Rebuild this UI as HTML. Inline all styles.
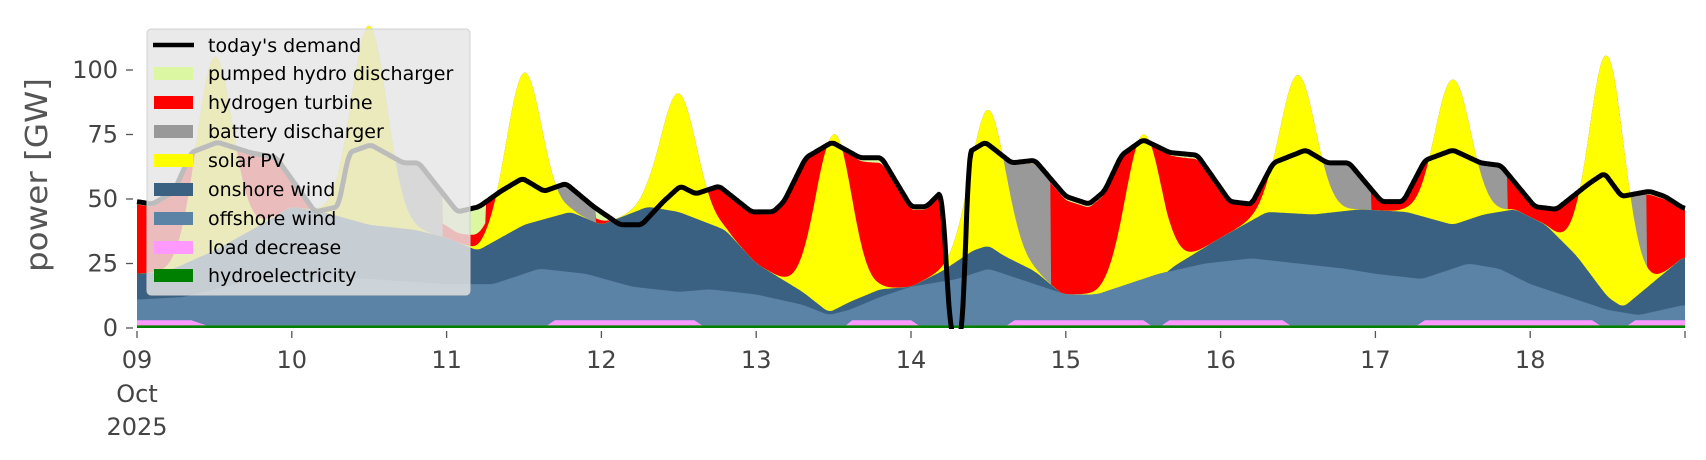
<!DOCTYPE html>
<html><head><meta charset="utf-8"><style>
html,body{margin:0;padding:0;background:#fff;}
svg{display:block;font-family:"DejaVu Sans","Liberation Sans",sans-serif;}
</style></head><body>
<svg id="s" width="1706" height="460" viewBox="0 0 1706 460" xmlns="http://www.w3.org/2000/svg">
<g id="plot"></g>
<g id="axes" fill="#444" font-size="24"></g>
<text x="0" y="0" transform="translate(47,175) rotate(-90)" text-anchor="middle" font-size="30" fill="#555" textLength="194" lengthAdjust="spacingAndGlyphs">power [GW]</text>
<g id="leg">
<rect x="147" y="29" width="323" height="266" rx="4" fill="rgba(229,229,229,0.82)" stroke="#d0d0d0"/>
<g font-size="19" fill="#000">
<line x1="153" y1="45" x2="194" y2="45" stroke="#000" stroke-width="4.5"/>
<text x="208" y="52">today's demand</text>
<rect x="154" y="67" width="39" height="13" fill="#dcf7a1"/><text x="208" y="80">pumped hydro discharger</text>
<rect x="154" y="96" width="39" height="13" fill="#ff0000"/><text x="208" y="109">hydrogen turbine</text>
<rect x="154" y="125" width="39" height="13" fill="#999999"/><text x="208" y="138">battery discharger</text>
<rect x="154" y="154" width="39" height="13" fill="#ffff00"/><text x="208" y="167">solar PV</text>
<rect x="154" y="183" width="39" height="13" fill="#3b6182"/><text x="208" y="196">onshore wind</text>
<rect x="154" y="212" width="39" height="13" fill="#5b83a5"/><text x="208" y="225">offshore wind</text>
<rect x="154" y="241" width="39" height="13" fill="#ff99ff"/><text x="208" y="254">load decrease</text>
<rect x="154" y="269" width="39" height="13" fill="#008000"/><text x="208" y="282">hydroelectricity</text>
</g></g>
</svg>
<script>
const X0=137,DX=154.8;const X=t=>X0+t*DX;const Y=v=>328-v*2.58;
function ip(p,t){if(t<=p[0][0])return p[0][1];for(let i=1;i<p.length;i++){if(t<=p[i][0]){const a=p[i-1],b=p[i];return a[1]+(b[1]-a[1])*(t-a[0])/(b[0]-a[0]);}}return p[p.length-1][1];}
function sm(arr,k){const o=[];for(let i=0;i<arr.length;i++){let s=0,n=0;for(let j=-k;j<=k;j++){const q=i+j;if(q>=0&&q<arr.length){s+=arr[q];n++;}}o.push(s/n);}return o;}
const D=[[0,49],[0.1,48],[0.24,53],[0.35,68],[0.52,72],[0.73,68],[0.9,66],[1.15,45],[1.3,47],[1.37,68],[1.51,71],[1.72,64],[1.82,64],[2.07,45],[2.21,47],[2.35,53],[2.49,58],[2.63,53],[2.77,56],[2.95,47],[3.12,40],[3.26,40],[3.4,49],[3.51,55],[3.61,52],[3.76,55],[3.97,45],[4.11,45],[4.18,49],[4.32,66],[4.49,72],[4.67,66],[4.81,66],[5.0,47],[5.1,47],[5.2,53],[5.255,-3],[5.335,-3],[5.37,68],[5.48,72],[5.65,64],[5.8,65],[6.0,51],[6.15,48],[6.25,53],[6.36,67],[6.5,73],[6.67,68],[6.85,67],[7.06,49],[7.2,48],[7.34,64],[7.55,69],[7.69,64],[7.83,64],[8.04,49],[8.18,49],[8.32,65],[8.5,69],[8.68,64],[8.81,63],[9.03,47],[9.17,46],[9.38,56],[9.48,60],[9.59,51],[9.77,53],[9.87,51],[10,46]];
const O=[[0,10],[0.3,11],[0.7,17],[1.0,19],[1.5,18],[2.0,16],[2.3,16],[2.6,22],[2.9,20],[3.2,15],[3.5,13],[3.7,14],[4.0,12],[4.3,8],[4.47,4],[4.6,6],[4.8,11],[5.0,15],[5.3,18],[5.5,22],[5.7,18],[6.0,12],[6.2,12],[6.4,16],[6.6,20],[6.9,24],[7.2,26],[7.5,24],[7.8,22],[8.0,20],[8.3,18],[8.6,24],[8.8,22],[9.0,16],[9.3,10],[9.5,6],[9.7,4],[10,8]];
const Nn=[[0,21],[0.2,22],[0.5,30],[0.8,40],[1.0,47],[1.2,45],[1.5,40],[1.8,38],[2.0,35],[2.2,30],[2.5,40],[2.8,45],[3.0,40],[3.3,47],[3.5,45],[3.8,38],[4.0,25],[4.3,14],[4.47,6],[4.6,10],[4.8,15],[5.0,16],[5.2,22],[5.4,30],[5.5,32],[5.6,28],[5.8,22],[6.0,12],[6.3,12],[6.5,14],[6.7,24],[7.0,35],[7.3,45],[7.6,44],[7.9,46],[8.2,45],[8.5,40],[8.7,44],[8.9,46],[9.1,40],[9.3,28],[9.5,12],[9.6,8],[9.8,18],[10,28]];
const peaks=[105,117,99,91,75,85,70,98,96,105];
const L=[[0,1],[0.35,1],[0.45,0],[2.65,0],[2.7,1],[3.6,1],[3.65,0],[4.58,0],[4.62,1],[5.0,1],[5.05,0],[5.62,0],[5.67,1],[6.5,1],[6.55,0],[6.62,0],[6.67,1],[7.4,1],[7.45,0],[8.27,0],[8.32,1],[9.4,1],[9.45,0],[9.63,0],[9.68,1],[10,1]];
const gray=[[1.6,1.97],[2.7,2.96],[5.55,5.9],[7.55,7.97],[8.55,8.85],[9.45,9.75]];
const pump=[[1.97,2.25],[2.96,3.2]];
function cat(t){for(const g of gray)if(t>=g[0]&&t<=g[1])return 0;for(const g of pump)if(t>=g[0]&&t<=g[1])return 2;return 1;}
const n=2000,T=[];for(let i=0;i<=n;i++)T.push(10*i/n);
let oA=sm(T.map(t=>ip(O,t)),6),nA=sm(T.map(t=>ip(Nn,t)),6);
const dA=sm(T.map(t=>ip(D,t)),4);
const lA=T.map(t=>ip(L,t)*2);
const hydro=1;
const layers={h:[],l:[],o:[],n:[],s:[],b:[],r:[],p:[]};
T.forEach((t,i)=>{const h=hydro,l=h+lA[i],o=Math.max(l,oA[i]+h),nn=Math.max(o,nA[i]);
 let sol=0;for(let k=0;k<10;k++){const c=k+0.5;const base=ip(Nn,c);const A=Math.max(0,peaks[k]-base);sol+=A*Math.exp(-Math.pow((t-c)/0.115,2)/2);}
 const s=nn+sol;const d=Math.max(0,dA[i]);const gap=Math.max(0,d-s);const c=cat(t);
 let b=s,r=s,p=s;if(c===0){b=s+gap*0.97;r=b;p=s+gap;}else if(c===1){b=s;r=s+gap*0.96;p=s+gap;}else{b=s;r=s+gap*0.3;p=s+gap;}
 layers.h.push(h);layers.l.push(l);layers.o.push(o);layers.n.push(nn);layers.s.push(s);layers.b.push(b);layers.r.push(r);layers.p.push(p);});
const cols={p:"#dcf7a1",r:"#ff0000",b:"#999999",s:"#ffff00",n:"#3b6182",o:"#5b83a5",l:"#ff99ff",h:"#008000"};
let html='<defs><clipPath id="cp"><rect x="130" y="0" width="1570" height="329"/></clipPath></defs><g clip-path="url(#cp)">';
for(const k of ["p","r","b","s","n","o","l","h"]){let d="M"+X(0)+","+Y(0);layers[k].forEach((v,i)=>{d+="L"+X(T[i]).toFixed(1)+","+Y(v).toFixed(1);});d+="L"+X(10)+","+Y(0)+"Z";html+='<path d="'+d+'" fill="'+cols[k]+'"/>';}
let dl="";dA.forEach((v,i)=>{dl+=(i?"L":"M")+X(T[i]).toFixed(1)+","+Y(v).toFixed(1);});
html+='<path d="'+dl+'" fill="none" stroke="#000" stroke-width="5" stroke-linejoin="round"/></g>';
document.getElementById("plot").innerHTML=html;
let ax="";
[0,25,50,75,100].forEach(v=>{const y=Y(v);ax+='<line x1="126" y1="'+y+'" x2="133" y2="'+y+'" stroke="#555" stroke-width="1.3"/><text x="118" y="'+(y+8)+'" text-anchor="end">'+v+'</text>';});
for(let k=0;k<=10;k++){const x=X(k);ax+='<line x1="'+x+'" y1="331" x2="'+x+'" y2="338" stroke="#555" stroke-width="1.3"/>';if(k<10)ax+='<text x="'+x+'" y="368" text-anchor="middle">'+(k===0?"09":String(9+k))+'</text>';}
ax+='<text x="'+X(0)+'" y="402" text-anchor="middle">Oct</text><text x="'+X(0)+'" y="435" text-anchor="middle">2025</text>';
document.getElementById("axes").innerHTML=ax;
</script>
</body></html>
